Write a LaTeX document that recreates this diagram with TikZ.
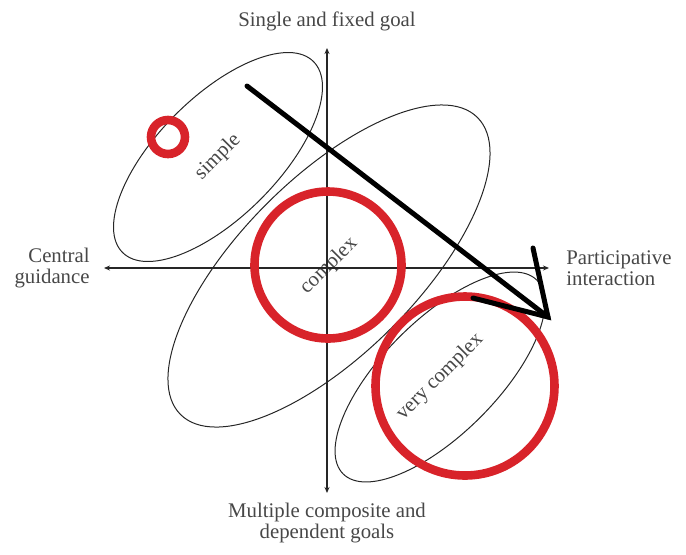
\documentclass[tikz,border=0pt]{standalone}
\usepackage{fontspec}
\setmainfont{Liberation Serif}
\usetikzlibrary{shapes.geometric,arrows.meta}

\definecolor{ringred}{HTML}{D8232A}
\definecolor{textgray}{HTML}{474747}

\tikzset{%
  every region/.style={
    ellipse,
    draw=black!85,
    line width=0.5pt,
    inner sep=0pt,
    rotate=45,
    text=textgray,
    font=\fontsize{10.4}{10.6}\selectfont
  },
  red ring/.style={
    draw=ringred,
    line width=4.3pt
  },
  axis line/.style={
    draw=black!85,
    line width=0.6pt,
    {Stealth[length=3pt,width=2.5pt]}-{Stealth[length=3pt,width=2.5pt]}
  },
  axis label/.style={
    text=textgray,
    inner sep=0pt,
    font=\fontsize{10.4}{10.6}\selectfont
  },
  pen stroke/.style={
    draw=black,
    line width=2.5pt,
    line cap=round
  },
}

\begin{document}
\begin{tikzpicture}[x=0.5pt,y=0.5pt]
  \useasboundingbox (0,0) rectangle (686,-554);
  % regions
  \node [every region, minimum width=270pt/2, minimum height=120pt/2] (simple) at (218,-157) {simple};
  \node [every region, minimum width=420pt/2, minimum height=176pt/2] (complex) at (329,-266) {complex};
  \node [every region, minimum width=274pt/2, minimum height=114pt/2] (vcomplex) at (440,-377) {very complex};
  % axes
  \coordinate (N) at (327,-48);
  \coordinate (S) at (327,-493);
  \coordinate (W) at (104,-268);
  \coordinate (E) at (549,-268);
  \draw [axis line] (S) -- (N);
  \draw [axis line] (W) -- (E);
  \node [axis label] (TOP) at (327,-21) {Single and fixed goal};
  \node [axis label, align=center] (BOTTOM) at (327,-523) {Multiple composite and\\dependent goals};
  \node [axis label, align=right, anchor=east] (LEFT) at (90,-268) {Central\\guidance};
  \node [axis label, align=left, anchor=west] (RIGHT) at (566,-268) {Participative\\interaction};
  % red rings
  \draw [red ring] (168,-137) circle (17);
  \draw [red ring] (328,-265) circle (73.5);
  \draw [red ring] (465,-386) circle (89.5);
  % hand drawn arrow
  \coordinate (start) at (247,-86);
  \coordinate (tip) at (548,-317);
  \coordinate (barb-1) at (533,-248);
  \coordinate (barb-2) at (473,-298);
  \draw [pen stroke] (start) -- (tip);
  \draw [pen stroke] (barb-1) -- (tip) -- (barb-2);
\end{tikzpicture}
\end{document}
